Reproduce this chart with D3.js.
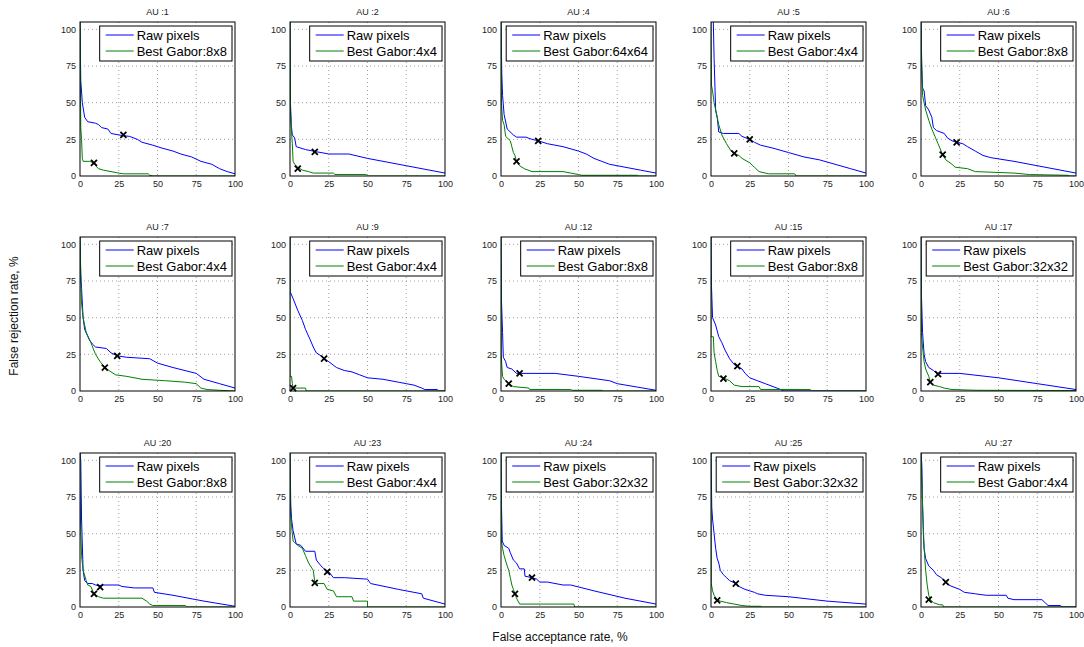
<!DOCTYPE html>
<html>
<head>
<meta charset="utf-8">
<script src="https://cdn.jsdelivr.net/npm/d3@7"></script>
<style>
  body { margin: 0; background: #fff; }
  svg { font-family: "Liberation Sans", Arial, sans-serif; }
</style>
</head>
<body>
<script>
"use strict";
(function(){
    // Panel titles and best gabor sizes
    const auIds = [1, 2, 4, 5, 6, 7, 9, 12, 15, 17, 20, 23, 24, 25, 27];
    const gaborSizes = ["8x8", "4x4", "64x64", "4x4", "8x8", "4x4", "4x4", "8x8", "8x8", "32x32", "8x8", "4x4", "32x32", "32x32", "4x4"];
    const xTicks = [0, 25, 50, 75, 100];
    const yTicks = [0, 25, 50, 75, 100];

    // Equal error rate markers [far, frr]
    const eerRaw = [[28, 28], [16, 16.5], [24, 24], [25, 25], [23, 23], [24, 24], [22, 22], [12, 12], [17, 17], [11, 11.5], [13, 13.5], [24, 24], [20, 20], [16, 16], [16, 17]];
    const eerGabor = [[9, 9], [5, 5], [10, 10], [15, 15.5], [14, 14.5], [16, 16], [2, 2], [5, 5], [8, 8.5], [6, 6], [9, 9], [16, 16.5], [9, 9], [4, 4.5], [5, 5]];

    // DET curves [false acceptance, false rejection]
    const rawAU1 = [[0,105],[0.5,65],[1.5,50],[3,40],[5,37],[10,36],[12,35],[14,33],[18,32],[20,29],[25,28],[28,27.5],[32,27],[37,25],[40,23],[47,21],[53,19],[60,17],[65,15],[72,13],[78,10],[85,8],[90,5],[95,3],[100,1.5]];
    const gabAU1 = [[0,105],[0.5,33],[1,25],[1.5,12],[2,10],[6,10],[9,9],[10,7],[12,5],[15,4],[20,3],[25,2],[28,1.5],[44,1.5],[45,0.5],[47,0],[100,0]];
    const rawAU2 = [[0,105],[0.3,50],[0.8,35],[1.5,28],[3,26],[4,20],[10,18],[15,17],[17,16.5],[20,16],[25,15],[38,15],[50,12],[75,7],[100,2]];
    const gabAU2 = [[0,105],[0.3,45],[1,30],[1.5,22],[2,10],[3,8],[5,6],[8,4],[12,3],[15,2],[28,2],[29,1],[49,1],[50,0],[100,0]];
    const rawAU4 = [[0,105],[0.5,70],[1,55],[2,42],[4,32],[8,28],[10,26.5],[16,26.5],[20,25],[24,24],[30,22],[40,20],[50,17],[55,15],[60,12],[65,10],[70,8],[80,6],[90,4],[100,2]];
    const gabAU4 = [[0,105],[0.3,50],[1,38],[2,35],[3,27],[6,24],[8,16],[9,14],[10,10],[12,7],[15,5],[20,3],[40,3],[45,2],[50,1],[52,0.5],[88,0.5],[89,0],[100,0]];
    const rawAU5 = [[1.5,105],[2,80],[3,45],[4,40],[5,30],[8,29],[18,29],[20,27],[25,25],[28,23],[32,21],[40,19],[50,16],[60,13],[70,11],[80,8],[90,5],[100,2]];
    const gabAU5 = [[0,105],[0.3,62],[1,58],[2,50],[3,45],[5,35],[7,28],[10,22],[13,17],[15,15.5],[18,14],[20,12],[25,9],[28,6],[31,3],[37,1.5],[54,1.5],[55,0],[100,0]];
    const rawAU6 = [[0,105],[0.5,75],[1,60],[2,58],[3,48],[5,45],[7,40],[8,33],[10,31],[15,29],[17,26],[20,24],[23,23],[27,22],[30,20],[35,17],[40,14],[45,12.5],[60,10],[80,6],[100,2]];
    const gabAU6 = [[0,105],[0.3,80],[1,55],[3,45],[5,38],[7,32],[9,27],[11,22],[13,17],[14,14.5],[16,11],[20,8],[22,6],[30,5],[35,3],[60,2],[70,1],[95,0.5],[96,0],[100,0]];
    const rawAU7 = [[0,105],[0.5,80],[1,70],[2,50],[3,42],[6,35],[8,32],[10,30],[17,29],[20,26],[24,24],[30,23],[45,22],[50,19],[60,16],[75,12],[80,8],[90,5],[100,2]];
    const gabAU7 = [[0,105],[0.5,75],[1,60],[2,50],[4,40],[7,33],[10,25],[13,20],[16,16],[20,13],[23,11],[30,10],[40,8],[55,7],[68,6],[75,5],[78,2],[82,1],[90,0.5],[100,0]];
    const rawAU9 = [[0,105],[0,68],[2,63],[5,55],[8,48],[10,42],[13,35],[15,30],[17,26],[20,24],[22,22],[25,20],[30,16],[35,14],[40,13],[45,11],[50,9],[60,8],[70,6],[75,5],[80,4],[85,2],[87,1],[95,1],[96,0],[100,0]];
    const gabAU9 = [[0,105],[0,10],[1,10],[1.5,5],[2,2.5],[3,2],[10,2],[10.5,0],[100,0]];
    const rawAU12 = [[0,105],[0.3,62],[1,40],[1.5,23],[3,20],[4,16],[7,15],[10,12],[12,12],[35,12],[50,10],[70,7],[75,5],[100,0.5]];
    const gabAU12 = [[0,105],[0.2,25],[0.5,18],[1,10],[2,8],[5,5],[8,3],[18,2],[18.5,1],[45,1],[46,0.5],[65,0.5],[66,0],[100,0]];
    const rawAU15 = [[0,105],[0.3,72],[1,50],[3,45],[5,37],[7,33],[9,28],[12,22],[15,18],[17,17],[20,15],[22,12],[25,9],[30,7],[35,5],[40,3],[45,1],[47,0],[100,0]];
    const gabAU15 = [[0,105],[0,37],[1.5,37],[2,26],[3,20],[4,14],[5,10],[8,9],[12,7],[15,4],[20,3],[31,3],[32,1],[64,1],[65,0],[100,0]];
    const rawAU17 = [[0,105],[0.3,65],[1,40],[2,25],[3,20],[5,16],[8,14],[10,12],[12,12],[25,12],[50,9],[75,5],[100,1]];
    const gabAU17 = [[0,105],[0.3,40],[1,30],[2,20],[3,15],[5,10],[6,6],[8,4],[12,3],[15,2],[20,1],[36,0.5],[100,0.3]];
    const rawAU20 = [[0,105],[0.5,100],[1,60],[2,25],[3,18],[5,16],[8,16],[10,15],[12,14.5],[15,15],[25,15],[27,14],[35,13],[47,13],[48,10],[60,8],[80,4],[100,0.5]];
    const gabAU20 = [[0,105],[0.3,60],[1,35],[2,25],[4,18],[5,15],[7,14],[9,9],[12,7],[15,6],[40,6],[43,4],[45,2],[47,1],[68,1],[69,0],[100,0]];
    const rawAU23 = [[0,105],[0.5,70],[1,60],[2,52],[4,43],[7,42],[10,38],[16,38],[17,32],[20,28],[22,26],[25,24],[28,20],[35,20],[50,19],[52,16],[70,12],[85,9],[86,6],[100,2]];
    const gabAU23 = [[0,105],[0.3,65],[1,55],[2,45],[5,42],[8,40],[10,35],[12,30],[15,25],[16,17],[18,16],[22,16],[24,12],[28,11],[30,7],[40,7],[41,4],[50,4],[50,0],[100,0]];
    const rawAU24 = [[0,105],[0.3,70],[0.8,45],[2,42],[5,40],[6,37],[8,32],[10,30],[12,26],[15,26],[15.5,21],[20,20],[23,19],[25,17],[30,17],[40,15],[45,15],[60,11],[80,6],[100,2]];
    const gabAU24 = [[0,105],[0.3,45],[1,40],[2,35],[4,28],[5,25],[6,20],[7,15],[8,12],[9,9],[10,6],[11,4],[12,2],[47,2],[47.5,0],[100,0]];
    const rawAU25 = [[0,105],[0.5,68],[1,60],[2,50],[3,40],[4,33],[5,30],[6,25],[8,22],[10,20],[12,18],[16,16],[18,14],[22,12],[25,11],[28,10],[30,9],[35,8],[50,7],[75,4],[100,2]];
    const gabAU25 = [[0,105],[0.2,16],[1,11],[2,8],[4,5],[6,4],[10,3],[15,2],[20,1],[25,0.5],[32,0.5],[33,0],[100,0]];
    const rawAU27 = [[0,105],[0.5,98],[1,70],[1.5,50],[2,40],[3,33],[5,28],[8,25],[10,22],[13,20],[15,18],[16,17],[18,15],[20,14],[25,12],[28,10],[35,9],[42,8],[55,8],[56,6],[60,5],[78,5],[80,3],[82,1],[90,1],[91,0],[100,0]];
    const gabAU27 = [[0,105],[0.3,98],[1,70],[2,40],[3,25],[4,15],[5,8],[6,5],[8,3],[12,1.5],[14,1.5],[14.5,0],[100,0]];

    const rawCurves = [rawAU1, rawAU2, rawAU4, rawAU5, rawAU6, rawAU7, rawAU9, rawAU12, rawAU15, rawAU17, rawAU20, rawAU23, rawAU24, rawAU25, rawAU27];
    const gaborCurves = [gabAU1, gabAU2, gabAU4, gabAU5, gabAU6, gabAU7, gabAU9, gabAU12, gabAU15, gabAU17, gabAU20, gabAU23, gabAU24, gabAU25, gabAU27];

    // Layout of the small multiples
    const measurements = {
        width: 1084,
        height: 647,
        plotW: 155,
        plotH: 154,
        colX: [80, 290, 501, 711, 921],
        rowY: [22, 237, 453]
    }

    const svg = d3.select("body").append("svg")
        .attr("width", measurements.width)
        .attr("height", measurements.height);

    for (let i = 0; i < auIds.length; i++) {
        makePanel(i);
    }
    axisLabels();

    // Draws one DET panel
    function makePanel(i) {
        const left = measurements.colX[i % 5];
        const top = measurements.rowY[Math.floor(i / 5)];
        const w = measurements.plotW, h = measurements.plotH;

        const scaleX = d3.scaleLinear().domain([0, 100]).range([0, w]);
        const scaleY = d3.scaleLinear().domain([0, 105]).range([h, 0]);

        const g = svg.append("g").attr("transform", `translate(${left},${top})`);

        // Dotted grid
        g.selectAll(".gx").data(xTicks.slice(1, 4)).enter().append("line")
            .attr("x1", d => scaleX(d)).attr("x2", d => scaleX(d))
            .attr("y1", 0).attr("y2", h)
            .attr("stroke", "#888").attr("stroke-width", 0.8)
            .attr("stroke-dasharray", "1,3");
        g.selectAll(".gy").data(yTicks.slice(1)).enter().append("line")
            .attr("x1", 0).attr("x2", w)
            .attr("y1", d => scaleY(d)).attr("y2", d => scaleY(d))
            .attr("stroke", "#888").attr("stroke-width", 0.8)
            .attr("stroke-dasharray", "1,3");

        // Axes
        const xAxis = d3.axisBottom(scaleX).tickValues(xTicks).tickSize(0).tickPadding(5);
        const yAxis = d3.axisLeft(scaleY).tickValues(yTicks).tickSize(0).tickPadding(4);
        const gx = g.append("g").attr("transform", `translate(0,${h})`).call(xAxis);
        const gy = g.append("g").call(yAxis);
        [gx, gy].forEach(a => {
            a.select(".domain").remove();
            a.selectAll("text").attr("font-size", 9).attr("fill", "#222")
                .attr("font-family", "Liberation Sans, Arial, sans-serif");
        });

        // Curves
        const line = d3.line().x(d => scaleX(d[0])).y(d => scaleY(d[1]));
        const clipId = "clip" + i;
        g.append("clipPath").attr("id", clipId).append("rect")
            .attr("width", w).attr("height", h);
        g.append("path").datum(rawCurves[i])
            .attr("clip-path", `url(#${clipId})`)
            .attr("d", line).attr("fill", "none")
            .attr("stroke", "#0000ff").attr("stroke-width", 1);
        g.append("path").datum(gaborCurves[i])
            .attr("clip-path", `url(#${clipId})`)
            .attr("d", line).attr("fill", "none")
            .attr("stroke", "#008000").attr("stroke-width", 1);

        // EER markers
        [eerRaw[i], eerGabor[i]].forEach(p => {
            const cx = scaleX(p[0]), cy = scaleY(p[1]), s = 3;
            g.append("path")
                .attr("d", `M${cx - s},${cy - s}L${cx + s},${cy + s}M${cx - s},${cy + s}L${cx + s},${cy - s}`)
                .attr("stroke", "#000").attr("stroke-width", 1.8);
        });

        // Box
        g.append("rect").attr("width", w).attr("height", h)
            .attr("fill", "none").attr("stroke", "#000").attr("stroke-width", 1);

        // Title
        g.append("text")
            .attr("x", w / 2).attr("y", -7)
            .attr("text-anchor", "middle")
            .attr("font-size", 9).attr("fill", "#222")
            .text("AU :" + auIds[i]);

        // Legend
        const leg = g.append("g");
        const labels = ["Raw pixels", "Best Gabor:" + gaborSizes[i]];
        const colorsList = ["#0000ff", "#008000"];
        const box = leg.append("rect")
            .attr("height", 35)
            .attr("fill", "#fff").attr("stroke", "#000").attr("stroke-width", 1);
        const texts = labels.map((t, k) => leg.append("text")
            .attr("x", 37).attr("y", 9 + 16 * k + 4.5)
            .attr("font-size", 13).attr("fill", "#000")
            .text(t));
        const tw = d3.max(texts, t => t.node().getBBox().width);
        const boxW = 37 + tw + 5;
        box.attr("width", boxW);
        colorsList.forEach((c, k) => {
            leg.append("line")
                .attr("x1", 6).attr("x2", 34)
                .attr("y1", 9 + 16 * k).attr("y2", 9 + 16 * k)
                .attr("stroke", c).attr("stroke-width", 1);
        });
        leg.attr("transform", `translate(${w - 3 - boxW},4)`);
    }

    // Shared axis labels
    function axisLabels() {
        svg.append("text")
            .attr("text-anchor", "middle")
            .attr("x", 560).attr("y", 641)
            .attr("font-size", 12).attr("fill", "#111")
            .text("False acceptance rate, %");

        svg.append("text")
            .attr("text-anchor", "middle")
            .attr("transform", "translate(18,316) rotate(-90)")
            .attr("font-size", 12).attr("fill", "#111")
            .text("False rejection rate, %");
    }
})()
</script>
</body>
</html>
